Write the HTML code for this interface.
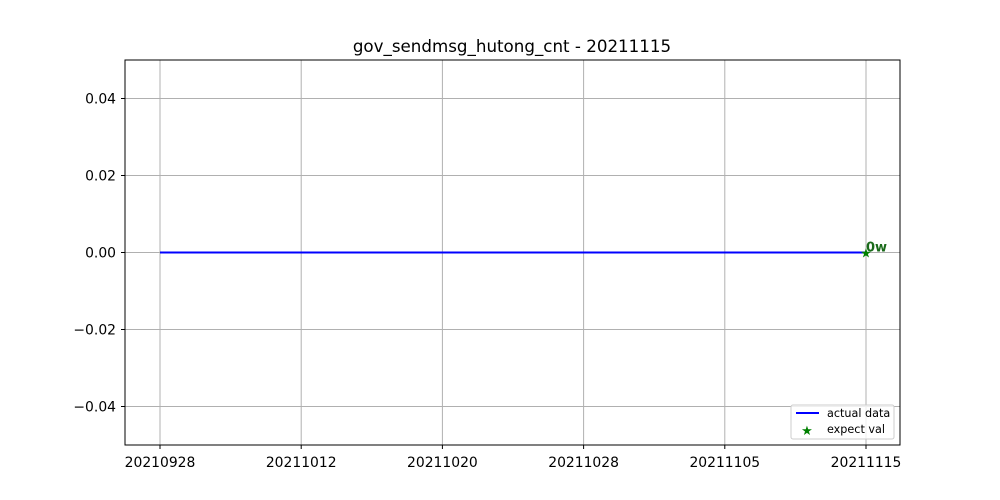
<!DOCTYPE html>
<html><head><meta charset="utf-8"><style>
body{margin:0;background:#fff;}
svg{display:block;font-family:"DejaVu Sans","Liberation Sans",sans-serif;}
</style></head><body>
<svg id="chart" width="1000" height="500">
<rect width="1000" height="500" fill="#fff"/>
<text x="512" y="52" text-anchor="middle" font-size="16.7">gov_sendmsg_hutong_cnt - 20211115</text>
<g id="grid"></g>
<g id="marks"></g>
<rect x="125" y="60" width="775" height="385" fill="none" stroke="#000" stroke-width="1"/>
<g id="axes"></g>
<g>
<rect x="791" y="405" width="103" height="34" rx="2" fill="#fff" fill-opacity="0.8" stroke="#ccc"/>
<line x1="796" y1="413" x2="819" y2="413" stroke="blue" stroke-width="2"/>
<text x="827" y="417" font-size="11.2">actual data</text>
<text x="807" y="435" font-size="13" fill="green" text-anchor="middle">★</text>
<text x="827" y="433" font-size="11.2">expect val</text>
</g>
</svg>
<script>
const xLabels=["20210928","20211012","20211020","20211028","20211105","20211115"];
const actualValues=[0,0,0,0,0,0];
const expectValues=[0];
const expectLabels=["0w"];
const yTicks=[-0.04,-0.02,0,0.02,0.04];
const NS="http://www.w3.org/2000/svg";
const L=125,R=900,T=60,B=445;
const xs=i=>160+i*(866-160)/(xLabels.length-1);
const ys=v=>T+(0.05-v)/0.1*(B-T);
function mk(tag,attrs,parent){const e=document.createElementNS(NS,tag);for(const k in attrs)e.setAttribute(k,attrs[k]);document.getElementById(parent).appendChild(e);return e;}
xLabels.forEach((lab,i)=>{
 const g=mk('line',{x1:xs(i),x2:xs(i),y1:T,y2:B,stroke:'#b0b0b0','stroke-width':1},'grid');
 
 
 const t=mk('line',{x1:xs(i),x2:xs(i),y1:B,y2:B+4,stroke:'#000'},'axes');
 
 
 const tx=mk('text',{x:xs(i),y:B+22,'text-anchor':'middle','font-size':13.9},'axes');
 tx.textContent=lab;
 
 
});
yTicks.forEach(v=>{
 const g=mk('line',{x1:L,x2:R,y1:ys(v),y2:ys(v),stroke:'#b0b0b0','stroke-width':1},'grid');
 
 
 const t=mk('line',{x1:L-4,x2:L,y1:ys(v),y2:ys(v),stroke:'#000'},'axes');
 
 
 const tx=mk('text',{x:L-9,y:ys(v)+5,'text-anchor':'end','font-size':13.9},'axes');
 tx.textContent=(v<0?'\u2212':'')+Math.abs(v).toFixed(2);
 
 
});
const pts=actualValues.map((v,i)=>xs(i)+','+ys(v)).join(' ');
const pl=mk('polyline',{points:pts,fill:'none',stroke:'blue','stroke-width':2},'marks');


expectValues.forEach((v,j)=>{
 const i=xLabels.length-1;
 const s=mk('text',{x:xs(i),y:ys(v)+5,'text-anchor':'middle','font-size':13,fill:'green'},'marks');
 s.textContent='★';
 
 
 const a=mk('text',{x:xs(i),y:ys(v)-1,'font-size':13,fill:'#1a6a1a','font-weight':'bold'},'marks');
 a.textContent=expectLabels[j];
 
 
});
</script>
</body></html>
